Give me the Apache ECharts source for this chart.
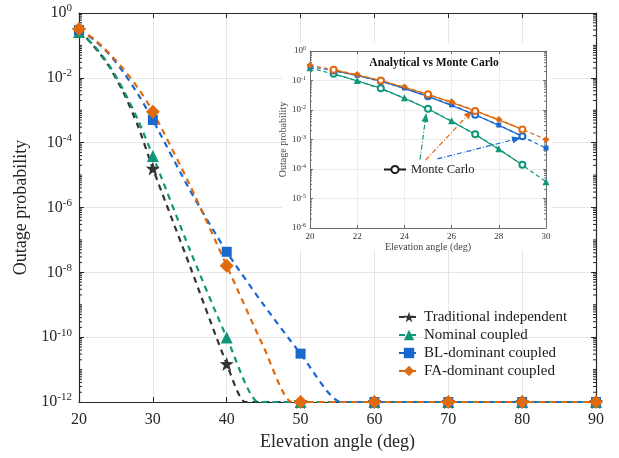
<!DOCTYPE html>
<html>
<head>
<meta charset="utf-8">
<script src="https://cdn.jsdelivr.net/npm/echarts@6/dist/echarts.min.js"></script>
<style>
  html, body { margin: 0; padding: 0; background: #ffffff; }
  #chart { width: 619px; height: 458px; }
</style>
</head>
<body>
<div id="chart"></div>
<script>
// ---- Main panel: outage probability vs elevation angle ----
const SERIF = 'Liberation Serif, Times New Roman, serif';

const NAME_TRAD = 'Traditional independent';
const NAME_NOM = 'Nominal coupled';
const NAME_BL = 'BL-dominant coupled';
const NAME_FA = 'FA-dominant coupled';

// marker positions (every 10 deg)
const markerAngles = [20, 30, 40, 50, 60, 70, 80, 90];
const tradMarkers = [0.30, 1.6e-5, 1.5e-11, 1e-12, 1e-12, 1e-12, 1e-12, 1e-12];
const nomMarkers  = [0.26, 3.9e-5, 9.8e-11, 1e-12, 1e-12, 1e-12, 1e-12, 1e-12];
const blMarkers   = [0.30, 5.0e-4, 4.3e-8, 3.1e-11, 1e-12, 1e-12, 1e-12, 1e-12];
const faMarkers   = [0.32, 9.0e-4, 1.6e-8, 1e-12, 1e-12, 1e-12, 1e-12, 1e-12];

// analytical curves (floored at 1e-12)
const tradCurveX = [20, 22, 24, 26, 28, 30, 35, 40, 42.5, 43.5, 90];
const tradCurveY = [0.30, 0.095, 0.024, 3.6e-3, 3.2e-4, 1.6e-5, 1.6e-8, 1.5e-11, 1e-12, 1e-12, 1e-12];
const nomCurveX  = [20, 22, 24, 26, 28, 30, 35, 40, 44.3, 45.3, 90];
const nomCurveY  = [0.26, 0.10, 0.026, 4.3e-3, 4.9e-4, 3.9e-5, 5e-8, 9.8e-11, 1e-12, 1e-12, 1e-12];
const blCurveX   = [20, 22, 24, 26, 28, 30, 35, 40, 45, 50, 55.5, 56.5, 90];
const blCurveY   = [0.30, 0.15, 0.056, 0.015, 3.1e-3, 5.0e-4, 3.5e-6, 4.3e-8, 1e-9, 3.1e-11, 1e-12, 1e-12, 1e-12];
const faCurveX   = [20, 22, 24, 26, 28, 30, 35, 40, 45, 48.8, 49.8, 90];
const faCurveY   = [0.32, 0.16, 0.06, 0.019, 4.8e-3, 9.0e-4, 5e-6, 1.6e-8, 5e-11, 1e-12, 1e-12, 1e-12];

// ---- Inset: analytical vs Monte Carlo (20-30 deg) ----
const insetEven = [20, 22, 24, 26, 28, 30];
const faInset  = [0.33, 0.16, 0.06, 0.019, 4.8e-3, 1.0e-3];
const blInset  = [0.30, 0.15, 0.056, 0.015, 3.1e-3, 5.1e-4];
const nomInset = [0.27, 0.10, 0.026, 4.3e-3, 4.9e-4, 3.7e-5];
const insetOdd = [21, 23, 25, 27, 29];
const faMC  = [0.23, 0.10, 0.034, 9.3e-3, 2.2e-3];
const blMC  = [0.22, 0.097, 0.029, 6.9e-3, 1.3e-3];
const nomMC = [0.17, 0.055, 0.011, 1.5e-3, 1.4e-4];

// annotation arrows: [startAngle, startProb, endAngle, endProb]
const arrowNom = [24.66, 2.1e-4, 24.9, 5.6e-3];
const arrowFa  = [24.9, 2.0e-4, 26.75, 7.6e-3];
const arrowBl  = [25.4, 2.2e-4, 28.76, 1.05e-3];

const C_TRAD = '#333333';
const C_NOM = '#10977a';
const C_BL = '#1868d0';
const C_FA = '#e06a10';

const STAR = 'path://M0,-10 L2.35,-3.24 L9.51,-3.09 L3.8,1.24 L5.88,8.09 L0,4 L-5.88,8.09 L-3.8,1.24 L-9.51,-3.09 L-2.35,-3.24 Z';

function zip(xs, ys) { return xs.map((x, i) => [x, ys[i]]); }

// log tick positions between labelled decades
function minorTicks(loExp, hiExp, majorStep) {
  const out = [];
  for (let k = loExp; k < hiExp; k++) {
    for (let m = 1; m <= 9; m++) {
      if (m === 1 && (k - loExp) % majorStep === 0) continue;
      out.push(m * Math.pow(10, k));
    }
  }
  return out;
}

function powLabel(v) {
  const e = Math.round(Math.log10(v));
  return '{b|10}{s|' + e + '}';
}

function tickSeries(name, xi, yi, xLo, xHi, values, len, color, z) {
  return {
    name: name, type: 'custom', xAxisIndex: xi, yAxisIndex: yi,
    silent: true, clip: false, z: z, animation: false,
    data: values.map(v => [xLo, v]),
    renderItem: function (params, api) {
      const v = api.value(1);
      const l = api.coord([xLo, v]);
      const r = api.coord([xHi, v]);
      return {
        type: 'group', children: [
          { type: 'line', shape: { x1: l[0], y1: l[1], x2: l[0] + len, y2: l[1] }, style: { stroke: color, lineWidth: 1 } },
          { type: 'line', shape: { x1: r[0] - len, y1: r[1], x2: r[0], y2: r[1] }, style: { stroke: color, lineWidth: 1 } }
        ]
      };
    }
  };
}

function curve(name, xs, ys, color, symbol, size) {
  return {
    name: name, type: 'line', xAxisIndex: 0, yAxisIndex: 0,
    data: zip(xs, ys), smooth: 0.25, showSymbol: false,
    symbol: symbol, symbolSize: size, z: 2,
    itemStyle: { color: color },
    lineStyle: { color: color, width: 2.2, type: [6, 5] }
  };
}

function markers(name, ys, color, symbol, size) {
  return {
    name: name, type: 'scatter', xAxisIndex: 0, yAxisIndex: 0,
    data: zip(markerAngles, ys), symbol: symbol, symbolSize: size, z: 3,
    itemStyle: { color: color, opacity: 1 }
  };
}

function insetAnalytic(name, ys, color, symbol, size) {
  return {
    name: name, type: 'line', xAxisIndex: 2, yAxisIndex: 2,
    data: zip(insetEven, ys), symbol: symbol, symbolSize: size, showSymbol: true, z: 5,
    itemStyle: { color: color },
    lineStyle: { color: color, width: 1.2, type: [4, 3] }
  };
}

function insetMC(name, ys, color, arrow) {
  return {
    name: name, type: 'line', xAxisIndex: 2, yAxisIndex: 2,
    data: zip(insetOdd, ys), symbol: 'emptyCircle', symbolSize: 6, showSymbol: true, z: 6,
    itemStyle: { color: color, borderWidth: 1 },
    lineStyle: { color: color, width: 1.2 },
    markLine: {
      silent: true, animation: false,
      symbol: ['none', 'triangle'], symbolSize: [7, 9],
      label: { show: false },
      lineStyle: { color: color, width: 1.2, type: [5, 2, 1, 2] },
      data: [[{ coord: [arrow[0], arrow[1]] }, { coord: [arrow[2], arrow[3]] }]]
    }
  };
}

const mainAxisColor = '#262626';
const insetAxisColor = '#6e6e6e';

const option = {
  backgroundColor: '#ffffff',
  animation: false,
  title: {
    text: 'Analytical vs Monte Carlo',
    left: 429, top: 52, textAlign: 'center', z: 8,
    textStyle: { fontFamily: SERIF, fontWeight: 'bold', fontSize: 11.5, color: '#111111' }
  },
  grid: [
    { left: 79, right: 23, top: 13, bottom: 56 },
    { left: 310, width: 236, top: 51, height: 177 }
  ],
  graphic: [{
    type: 'rect', z: 3,
    shape: { x: 282, y: 43, width: 270, height: 207 },
    style: { fill: '#ffffff' }
  }],
  xAxis: [
    {
      gridIndex: 0, type: 'value', min: 20, max: 90, interval: 10,
      name: 'Elevation angle (deg)', nameLocation: 'middle', nameGap: 30,
      nameTextStyle: { fontFamily: SERIF, fontSize: 18, color: mainAxisColor },
      axisLine: { lineStyle: { color: mainAxisColor, width: 1.2 } },
      axisTick: { inside: true, length: 5, lineStyle: { color: mainAxisColor } },
      axisLabel: { fontFamily: SERIF, fontSize: 16, color: mainAxisColor, margin: 10 },
      splitLine: { show: true, lineStyle: { color: '#e6e6e6' } }
    },
    {
      gridIndex: 0, type: 'value', min: 20, max: 90, interval: 10, position: 'top',
      axisLine: { show: true, lineStyle: { color: mainAxisColor, width: 1.2 } },
      axisTick: { inside: true, length: 5, lineStyle: { color: mainAxisColor } },
      axisLabel: { show: false }, splitLine: { show: false }
    },
    {
      gridIndex: 1, type: 'value', min: 20, max: 30, interval: 2, z: 4,
      name: 'Elevation angle (deg)', nameLocation: 'middle', nameGap: 14,
      nameTextStyle: { fontFamily: SERIF, fontSize: 10, color: '#444444' },
      axisLine: { lineStyle: { color: insetAxisColor } },
      axisTick: { inside: true, length: 3, lineStyle: { color: insetAxisColor } },
      axisLabel: { fontFamily: SERIF, fontSize: 9, color: '#333333', margin: 4 },
      splitLine: { show: true, lineStyle: { color: '#ececec' } }
    },
    {
      gridIndex: 1, type: 'value', min: 20, max: 30, interval: 2, position: 'top', z: 4,
      axisLine: { show: true, lineStyle: { color: insetAxisColor } },
      axisTick: { inside: true, length: 3, lineStyle: { color: insetAxisColor } },
      axisLabel: { show: false }, splitLine: { show: false }
    }
  ],
  yAxis: [
    {
      gridIndex: 0, type: 'log', min: 1e-12, max: 1, interval: 2,
      name: 'Outage probability', nameLocation: 'middle', nameGap: 42, nameRotate: 90,
      nameTextStyle: { fontFamily: SERIF, fontSize: 18, color: mainAxisColor },
      axisLine: { show: true, lineStyle: { color: mainAxisColor, width: 1.2 } },
      axisTick: { show: true, inside: true, length: 5, lineStyle: { color: mainAxisColor } },
      axisLabel: {
        margin: 7, formatter: powLabel,
        rich: {
          b: { fontFamily: SERIF, fontSize: 16, color: mainAxisColor },
          s: { fontFamily: SERIF, fontSize: 11, color: mainAxisColor, padding: [0, 0, 9, 0] }
        }
      },
      splitLine: { show: true, lineStyle: { color: '#e6e6e6' } }
    },
    {
      gridIndex: 0, type: 'log', min: 1e-12, max: 1, interval: 2, position: 'right',
      axisLine: { show: true, lineStyle: { color: mainAxisColor, width: 1.2 } },
      axisTick: { show: true, inside: true, length: 5, lineStyle: { color: mainAxisColor } },
      axisLabel: { show: false }, splitLine: { show: false }
    },
    {
      gridIndex: 1, type: 'log', min: 1e-6, max: 1, interval: 1, z: 4,
      name: 'Outage probability', nameLocation: 'middle', nameGap: 19, nameRotate: 90,
      nameTextStyle: { fontFamily: SERIF, fontSize: 10, color: '#444444' },
      axisLine: { show: true, lineStyle: { color: insetAxisColor } },
      axisTick: { show: true, inside: true, length: 3, lineStyle: { color: insetAxisColor } },
      axisLabel: {
        margin: 4, formatter: powLabel,
        rich: {
          b: { fontFamily: SERIF, fontSize: 9, color: '#333333' },
          s: { fontFamily: SERIF, fontSize: 6, color: '#333333', padding: [0, 0, 5, 0] }
        }
      },
      splitLine: { show: true, lineStyle: { color: '#ececec' } }
    },
    {
      gridIndex: 1, type: 'log', min: 1e-6, max: 1, interval: 1, position: 'right', z: 4,
      axisLine: { show: true, lineStyle: { color: insetAxisColor } },
      axisTick: { show: true, inside: true, length: 3, lineStyle: { color: insetAxisColor } },
      axisLabel: { show: false }, splitLine: { show: false }
    }
  ],
  legend: [
    {
      data: [NAME_TRAD, NAME_NOM, NAME_BL, NAME_FA],
      orient: 'vertical', left: 398, top: 309.5, padding: 0,
      itemWidth: 20, itemHeight: 13, itemGap: 3,
      textStyle: { fontFamily: SERIF, fontSize: 15, color: '#1a1a1a' }
    },
    {
      data: ['Monte Carlo'],
      left: 383, top: 163, padding: 0, z: 8,
      itemWidth: 22, itemHeight: 9,
      textStyle: { fontFamily: SERIF, fontSize: 12.5, color: '#1a1a1a' }
    }
  ],
  series: [
    curve(NAME_TRAD, tradCurveX, tradCurveY, C_TRAD, STAR, 13),
    curve(NAME_NOM, nomCurveX, nomCurveY, C_NOM, 'triangle', 11),
    curve(NAME_BL, blCurveX, blCurveY, C_BL, 'rect', 9),
    curve(NAME_FA, faCurveX, faCurveY, C_FA, 'diamond', 13),
    markers('trad-markers', tradMarkers, C_TRAD, STAR, 14),
    markers('nom-markers', nomMarkers, C_NOM, 'triangle', 12),
    markers('bl-markers', blMarkers, C_BL, 'rect', 10),
    markers('fa-markers', faMarkers, C_FA, 'diamond', 14),
    tickSeries('main-minor', 0, 0, 20, 90, minorTicks(-12, 0, 2), 3, mainAxisColor, 2),

    insetAnalytic('nom-analytic', nomInset, C_NOM, 'triangle', 7),
    insetAnalytic('bl-analytic', blInset, C_BL, 'rect', 5),
    insetAnalytic('fa-analytic', faInset, C_FA, 'diamond', 7),
    insetMC('nom-mc', nomMC, C_NOM, arrowNom),
    insetMC('bl-mc', blMC, C_BL, arrowBl),
    insetMC('fa-mc', faMC, C_FA, arrowFa),
    {
      name: 'Monte Carlo', type: 'line', xAxisIndex: 2, yAxisIndex: 2, data: [],
      symbol: 'emptyCircle', symbolSize: 9,
      itemStyle: { color: '#1a1a1a', borderWidth: 1.2 },
      lineStyle: { color: '#1a1a1a', width: 1.5 }
    },
    tickSeries('inset-minor', 2, 2, 20, 30, minorTicks(-6, 0, 1), 2, insetAxisColor, 5)
  ]
};

const chart = echarts.init(document.getElementById('chart'), null, { renderer: 'canvas' });
chart.setOption(option);
</script>
</body>
</html>
